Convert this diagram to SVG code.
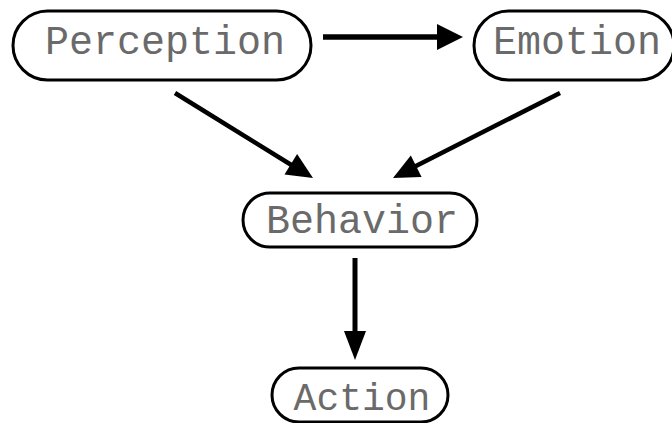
<svg xmlns="http://www.w3.org/2000/svg" width="672" height="423" viewBox="0 0 672 423">
  <style>
    .node rect { fill: #ffffff; stroke: #000000; stroke-width: 3; }
    .node text { font-family: "Liberation Mono", "Courier New", monospace; font-size: 40px; fill: #6a6a6a; text-anchor: middle; }
    .edge { stroke: #000000; fill: none; stroke-linecap: butt; }
    .head { fill: #000000; stroke: none; }
  </style>

  <g id="connectors">
    <!-- Perception -> Emotion -->
    <line class="edge" x1="323" y1="37" x2="440" y2="37" stroke-width="5.5"/>
    <polygon class="head" points="463,37 437,24 437,50"/>
    <!-- Perception -> Behavior -->
    <line class="edge" x1="175" y1="93" x2="293" y2="166" stroke-width="4.5"/>
    <polygon class="head" points="313,178 297.1,154.1 284.5,174.6"/>
    <!-- Emotion -> Behavior -->
    <line class="edge" x1="560" y1="93" x2="414" y2="167" stroke-width="4.5"/>
    <polygon class="head" points="393,178 410.8,155.5 421.6,176.9"/>
    <!-- Behavior -> Action -->
    <line class="edge" x1="355" y1="258" x2="355" y2="334" stroke-width="5"/>
    <polygon class="head" points="355,360 344,331 366,331"/>
  </g>

  <g id="perception" class="node">
    <rect x="13" y="11" width="298" height="69" rx="34.5" ry="34.5"/>
    <text x="165" y="54">Perception</text>
  </g>

  <g id="emotion" class="node">
    <rect x="474" y="11" width="200" height="69" rx="34.5" ry="34.5"/>
    <text x="577" y="54">Emotion</text>
  </g>

  <g id="behavior" class="node">
    <rect x="243" y="193" width="234" height="54" rx="27" ry="27"/>
    <text x="362" y="233">Behavior</text>
  </g>

  <g id="action" class="node">
    <rect x="272" y="368" width="176" height="54" rx="27" ry="27"/>
    <text x="362" y="410" style="font-size:38px">Action</text>
  </g>
</svg>
